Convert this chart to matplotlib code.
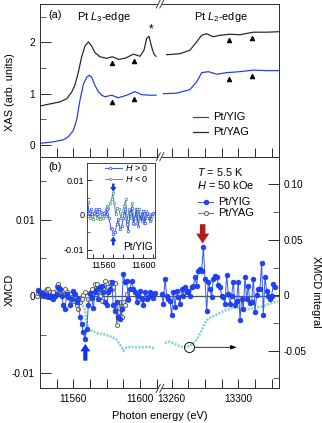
import matplotlib
matplotlib.use('Agg')
import matplotlib.pyplot as plt
from matplotlib.lines import Line2D
from matplotlib.patches import Rectangle
from matplotlib.ticker import FixedLocator, FixedFormatter, NullFormatter

plt.rcParams['font.family'] = ['Liberation Sans', 'DejaVu Sans']
plt.rcParams['mathtext.fontset'] = 'custom'
plt.rcParams['mathtext.it'] = 'Liberation Sans:italic'
plt.rcParams['mathtext.rm'] = 'Liberation Sans'

# ---------------- data ----------------
# XAS, Pt L3 edge (left) and L2 edge (right)
yag_l3_e = [11540, 11552, 11556, 11559, 11561, 11563, 11565, 11567, 11569, 11571, 11573, 11576, 11580,
            11583.4, 11587, 11591, 11596, 11600, 11602.4, 11604, 11605.4, 11607, 11608.4, 11609.6]
yag_l3_v = [0.76, 0.84, 0.90, 1.03, 1.17, 1.42, 1.72, 1.93, 2.01, 1.93, 1.80, 1.72, 1.69,
            1.72, 1.67, 1.69, 1.77, 1.73, 1.85, 2.08, 2.12, 1.91, 1.77, 1.73]
yag_l2_e = [13257, 13265, 13271, 13275, 13278, 13281, 13285, 13289, 13295, 13301, 13309, 13317, 13325]
yag_l2_v = [1.76, 1.78, 1.85, 2.01, 2.14, 2.17, 2.11, 2.14, 2.16, 2.15, 2.20, 2.20, 2.21]
yig_l3_e = [11540, 11548, 11554, 11557, 11560, 11562, 11564, 11566, 11568, 11569.6, 11571, 11573,
            11575, 11577, 11579, 11583, 11587, 11592, 11597, 11601, 11606, 11609.6]
yig_l3_v = [0.03, 0.06, 0.10, 0.16, 0.28, 0.49, 0.875, 1.18, 1.32, 1.36, 1.32, 1.16,
            1.04, 0.97, 0.94, 0.97, 0.92, 0.97, 1.04, 0.98, 0.97, 0.97]
yig_l2_e = [13255, 13263, 13271, 13275, 13278, 13282, 13287, 13293, 13301, 13309, 13317, 13325]
yig_l2_v = [1.00, 1.01, 1.08, 1.23, 1.41, 1.43, 1.38, 1.41, 1.43, 1.46, 1.45, 1.45]
tri_e_l3 = [11583.4, 11596.6]
tri_yag_l3 = [1.60, 1.63]
tri_yig_l3 = [0.84, 0.89]
tri_e_l2 = [13294.6, 13308.4]
tri_yag_l2 = [2.04, 2.08]
tri_yig_l2 = [1.29, 1.34]

# XMCD (x1e-3), 1 eV steps
yig_mcd_l3_start = 11539
yig_mcd_l3 = [0.8, 0.5, 0.2, 0.4, 0.0, 0.2, -0.1, 0.1, -0.2, -0.3, 0.0, 0.3, 1.2, 1.0, 0.1, -1.2,
              -1.7, 0.3, -0.1, -1.2, -0.3, 0.7, 0.3, -0.8, -0.3, -2.7, -3.6, -4.7, -5.6, -4.3,
              -1.2, 0.4, -0.2, -1.5, 0.6, 0.9, -0.3, 1.2, 1.4, 0.5, -0.8, -1.2, 0.5, 1.0, 1.8,
              -1.2, -1.9, -0.8, -2.7, -3.0, -1.7, 2.9, 1.8, 2.0, -0.3, 1.0, 2.0, 1.0, 0.5, -0.8,
              0.1, 0.7, -0.3, -1.2, 0.5, -0.3, -0.1, 0.5, 0.3, -0.2, 0.4]
yig_mcd_l2_start = 13254
yig_mcd_l2 = [0.3, -1.0, 2.3, 0.1, -0.3, -0.6, -2.5, 0.6, -1.4, 0.7, -0.1, -1.0, 1.0, 0.1, 1.2,
              0.5, 0.7, 0.1, 1.2, 1.3, 2.5, 1.4, 3.3, 3.6, 3.3, 6.4, 2.3, -1.9, 1.8, 1.0, -0.1,
              2.3, 2.7, 2.5, 1.5, 1.2, 0.1, -0.1, -1.0, 2.8, 0.3, -1.0, 0.1, 1.9, -1.1, -0.6,
              1.9, -3.1, -0.3, -1.6, 2.5, -0.3, 1.4, -0.9, -0.8, 2.3, -2.0, 0.2, 1.0, 1.0, 4.4,
              -2.4, 2.5, 0.7, 0.1, -0.3, 0.1, 1.6, 1.2]
yag_mcd_l3_start = 11538
yag_mcd_l3 = [0.1, 0.4, 0.6, 0.1, 0.2, 0.7, 1.0, 1.0, 0.5, 0.4, 0.6, 0.1, 1.4, 1.6, 1.0, 0.3,
              0.2, 0.9, 0.5, 0.2, 0.3, -0.1, -0.6, -0.1, -1.2, -1.7, -0.8, -0.3, 0.2, 0.5, 0.0,
              -0.4, 0.3, 1.0, 0.4, 1.6, 1.6, 0.7, 0.1, -0.6, 1.0, 2.0, 1.2, 1.2, 1.8, 1.0, 1.2,
              1.7, -3.8, -2.1, -0.8, -2.7, -0.8, -1.2, 0.3, -0.5]

# XMCD integral (right axis)
int_l3_e = [11540, 11545, 11550, 11555, 11560, 11563, 11565, 11567, 11568, 11569, 11571, 11574,
            11578, 11582, 11586, 11589, 11590, 11592, 11596, 11601, 11605, 11609]
int_l3_v = [0.0, 0.001, 0.002, 0.002, 0.0, -0.004, -0.008, -0.0129, -0.025, -0.030, -0.032, -0.034,
            -0.035, -0.037, -0.040, -0.047, -0.050, -0.047, -0.0465, -0.047, -0.0465, -0.048]
int_l2_e = [13256, 13259, 13262, 13266, 13271, 13275, 13278, 13280, 13282, 13285, 13289, 13293,
            13297, 13303, 13307, 13311, 13315, 13319, 13324]
int_l2_v = [-0.043, -0.042, -0.044, -0.0465, -0.046, -0.040, -0.032, -0.025, -0.021, -0.019, -0.016,
            -0.013, -0.011, -0.012, -0.0125, -0.011, -0.010, -0.0075, -0.0054]

# Inset: XMCD for H>0 and H<0 (x1e-3)
inset_pos_e = [11544.4, 11545.7, 11547.4, 11549.0, 11550.7, 11552.4, 11554.0, 11555.7, 11557.4, 11559.0,
               11560.7, 11562.4, 11564.0, 11565.7, 11567.4, 11569.0, 11570.0, 11571.7, 11573.4, 11575.0,
               11576.7, 11578.4, 11580.0, 11581.7, 11583.4, 11585.0, 11586.7, 11588.4, 11590.0, 11591.7,
               11593.4, 11595.0, 11596.7, 11598.4, 11600.0, 11601.7, 11603.4, 11605.0, 11606.7, 11608.4,
               11610.0]
inset_pos_v = [3.7, 0.7, 1.6, 0.2, 0.7, 1.6, 0.2, 1.6, 0.9, 0.2, 0.7, -0.3, 1.6, -0.8, -3.6, -4.1,
               -5.5, -5.0, -2.7, -1.2, -4.1, -3.1, -0.8, 1.6, -2.7, -4.6, 0.7, 2.1, -2.2, -0.8, 1.6,
               -3.1, 0.2, -1.7, 1.1, -2.2, 0.7, -0.3, -1.7, 0.2, 0.7]
inset_neg_e = [11544.4, 11546.7, 11548.4, 11550.0, 11551.7, 11553.4, 11555.0, 11556.7, 11558.4, 11560.0,
               11561.7, 11563.4, 11565.0, 11566.7, 11568.4, 11569.4, 11571.0, 11572.4, 11574.0, 11575.7,
               11577.4, 11579.0, 11580.7, 11582.4, 11584.0, 11585.7, 11587.4, 11589.0, 11590.7, 11592.4,
               11594.0, 11595.7, 11597.4, 11599.0, 11600.7, 11602.4, 11604.0, 11605.7, 11607.4, 11609.0]
inset_neg_v = [-0.3, -0.8, -0.3, -1.2, 0.7, -0.8, 0.2, -1.2, -0.3, -0.8, 0.7, 2.6, 2.1, 3.5, 4.5,
               6.4, 3.5, 0.2, 2.1, 1.6, -0.8, 0.7, 2.6, 4.5, -1.7, 1.6, -0.8, 3.5, -2.7, 1.6, -2.2,
               1.6, -1.2, 0.7, -2.2, 1.1, -0.8, 0.2, -1.2, -0.3]

# ---------------- layout ----------------
W, H = 322, 423
DPI = 72
fig = plt.figure(figsize=(W / DPI, H / DPI), dpi=DPI)

def fx(px):
    return px / W

def fy(py):
    return 1 - py / H

XL = (11540, 11612)
XR = (13253, 13324.6)
XBRK = 160
A_TOP, A_BOT, B_BOT = 4, 156.7, 388.3
LEFT, RIGHT = 40, 279.3

axaL = fig.add_axes([fx(LEFT), fy(A_BOT), fx(XBRK - LEFT), (A_BOT - A_TOP) / H])
axaR = fig.add_axes([fx(XBRK), fy(A_BOT), fx(RIGHT - XBRK), (A_BOT - A_TOP) / H])
axbL = fig.add_axes([fx(LEFT), fy(B_BOT), fx(XBRK - LEFT), (B_BOT - A_BOT) / H])
axbR = fig.add_axes([fx(XBRK), fy(B_BOT), fx(RIGHT - XBRK), (B_BOT - A_BOT) / H])
twL = axbL.twinx()
twR = axbR.twinx()
for main, tw in ((axbL, twL), (axbR, twR)):
    tw.set_zorder(main.get_zorder() - 1)
    main.patch.set_visible(False)

BLACK = '#222222'
BLUE = '#1e3ce8'
TLEN_MAJ, TLEN_MIN, TLEN_X = 11, 6, 9
TICKFS = 10
SPINE_LW = 1.0

for ax in (axaL, axaR, axbL, axbR, twL, twR):
    for s in ax.spines.values():
        s.set_linewidth(SPINE_LW)
        s.set_color('#333333')

# panel (a)
for ax, xl in ((axaL, XL), (axaR, XR)):
    ax.set_xlim(*xl)
    ax.set_ylim(-0.23, 2.75)
axaL.spines['right'].set_visible(False)
axaR.spines['left'].set_visible(False)
axaL.plot(yag_l3_e, yag_l3_v, color=BLACK, lw=1.2)
axaR.plot(yag_l2_e, yag_l2_v, color=BLACK, lw=1.2)
axaL.plot(yig_l3_e, yig_l3_v, color=BLUE, lw=1.2)
axaR.plot(yig_l2_e, yig_l2_v, color=BLUE, lw=1.2)
axaL.plot(tri_e_l3, tri_yag_l3, '^', color='black', ms=4.5)
axaL.plot(tri_e_l3, tri_yig_l3, '^', color='black', ms=4.5)
axaR.plot(tri_e_l2, tri_yag_l2, '^', color='black', ms=4.5)
axaR.plot(tri_e_l2, tri_yig_l2, '^', color='black', ms=4.5)
axaL.text(11606.6, 2.26, '*', ha='center', va='center', fontsize=12)

axaL.yaxis.set_major_locator(FixedLocator([0, 1, 2]))
axaL.yaxis.set_major_formatter(FixedFormatter(['0', '1', '2']))
axaL.yaxis.set_minor_locator(FixedLocator([0.5, 1.5, 2.5]))
axaL.tick_params(axis='y', which='both', direction='in', labelsize=TICKFS, pad=5, right=False)
axaL.tick_params(axis='y', which='major', length=TLEN_MAJ)
axaL.tick_params(axis='y', which='minor', length=TLEN_MIN)
axaR.tick_params(axis='y', which='both', left=False, right=False, labelleft=False)

xt_L = [11550, 11560, 11570, 11580, 11590, 11600, 11610]
xt_R = [13260, 13270, 13280, 13290, 13300, 13310, 13320]
lab_L = ['', '11560', '', '', '', '11600', '']
lab_R = ['13260', '', '', '', '13300', '', '']
for ax, xt in ((axaL, xt_L), (axaR, xt_R)):
    ax.xaxis.set_major_locator(FixedLocator(xt))
    ax.xaxis.set_major_formatter(NullFormatter())
    ax.tick_params(axis='x', direction='in', length=TLEN_X, top=False)

# panel (b)
for ax, xl in ((axbL, XL), (axbR, XR)):
    ax.set_xlim(*xl)
    ax.set_ylim(-0.0120, 0.0182)
for tw, xl in ((twL, XL), (twR, XR)):
    tw.set_xlim(*xl)
    tw.set_ylim(-0.0839, 0.125)
for ax in (axbL, twL):
    ax.spines['right'].set_visible(False)
for ax in (axbR, twR):
    ax.spines['left'].set_visible(False)
for ax, xt, lab in ((axbL, xt_L, lab_L), (axbR, xt_R, lab_R)):
    ax.xaxis.set_major_locator(FixedLocator(xt))
    ax.xaxis.set_major_formatter(FixedFormatter(lab))
    ax.tick_params(axis='x', direction='in', length=TLEN_X, top=False, labelsize=TICKFS, pad=6)
    ax.axhline(0, color='#555555', lw=1.3, zorder=1)
twL.tick_params(axis='both', which='both', left=False, right=False, labelleft=False, labelright=False,
                bottom=False, top=False, labelbottom=False)
twR.tick_params(axis='x', which='both', bottom=False, top=False, labelbottom=False)

axbL.yaxis.set_major_locator(FixedLocator([-0.01, 0, 0.01]))
axbL.yaxis.set_major_formatter(FixedFormatter(['-0.01', '0', '0.01']))
axbL.yaxis.set_minor_locator(FixedLocator([-0.005, 0.005, 0.015]))
axbL.tick_params(axis='y', which='both', direction='in', labelsize=TICKFS, pad=5, right=False)
axbL.tick_params(axis='y', which='major', length=TLEN_MAJ)
axbL.tick_params(axis='y', which='minor', length=TLEN_MIN)
axbR.tick_params(axis='y', which='both', left=False, right=False, labelleft=False)

twR.yaxis.set_major_locator(FixedLocator([-0.05, 0, 0.05, 0.10]))
twR.yaxis.set_major_formatter(FixedFormatter(['-0.05', '0', '0.05', '0.10']))
twR.yaxis.set_minor_locator(FixedLocator([-0.075, -0.025, 0.025, 0.075]))
twR.tick_params(axis='y', which='both', direction='in', labelsize=TICKFS, pad=4, left=False)
twR.tick_params(axis='y', which='major', length=TLEN_MAJ)
twR.tick_params(axis='y', which='minor', length=TLEN_MIN)

CYAN = '#84d4d4'
twL.plot(int_l3_e, int_l3_v, color=CYAN, lw=2.6, ls=(0, (0.8, 0.5)))
twR.plot(int_l2_e, int_l2_v, color=CYAN, lw=2.6, ls=(0, (0.8, 0.5)))

yag_e = [yag_mcd_l3_start + i for i in range(len(yag_mcd_l3))]
yigL_e = [yig_mcd_l3_start + i for i in range(len(yig_mcd_l3))]
yigR_e = [yig_mcd_l2_start + i for i in range(len(yig_mcd_l2))]
sc = 1e-3
GRAY = '#707070'
axbL.plot(yag_e, [v * sc for v in yag_mcd_l3], '-o', color=GRAY, lw=1.0, ms=4.2, mfc='#eeeeee',
          mec='#606060', mew=0.9, zorder=3, clip_on=False)
MBLUE = '#1f44ff'
for ax, e, v in ((axbL, yigL_e, yig_mcd_l3), (axbR, yigR_e, yig_mcd_l2)):
    ax.plot(e, [x * sc for x in v], '-o', color='#3a5cf5', lw=1.0, ms=4.8, mfc=MBLUE,
            mec='#1030d0', mew=0.6, zorder=4, clip_on=False)

# arrows
axbR.annotate('', xy=(13278.6, 0.0069), xytext=(13278.6, 0.0094),
              arrowprops=dict(arrowstyle='simple,head_width=1.0,head_length=0.75,tail_width=0.42',
                              color='#b01c1c', lw=0, mutation_scale=13, shrinkA=0, shrinkB=0))
axbL.annotate('', xy=(11567.2, -0.0062), xytext=(11567.2, -0.0084),
              arrowprops=dict(arrowstyle='simple,head_width=1.0,head_length=0.75,tail_width=0.42',
                              color='#1133ee', lw=0, mutation_scale=10, shrinkA=0, shrinkB=0))
circ_x, circ_y = 13270.6, -0.0469
twR.plot([circ_x], [circ_y], 'o', ms=10, mfc='none', mec='black', mew=0.9)
twR.annotate('', xy=(13299, circ_y), xytext=(13273.8, circ_y),
             arrowprops=dict(arrowstyle='-|>,head_width=0.18,head_length=0.5', color='black', lw=0.8,
                             shrinkA=0, shrinkB=0))

# break marks
for yb in (A_TOP, A_BOT, B_BOT):
    fig.add_artist(Rectangle((fx(157.8), fy(yb + 2)), fx(4.4), 4 / H, transform=fig.transFigure,
                             facecolor='white', edgecolor='none', zorder=10))
    for x0 in (156.3, 159.8):
        fig.add_artist(Line2D([fx(x0), fx(x0 + 4)], [fy(yb + 4), fy(yb - 4)], transform=fig.transFigure,
                              color='#333333', lw=0.9, zorder=11))

# texts
FS = 11
fig.text(fx(48), fy(15), '(a)', fontsize=FS, va='center', ha='left')
fig.text(fx(104), fy(17), 'Pt $L_3$-edge', fontsize=FS, va='center', ha='center')
fig.text(fx(220.5), fy(17), 'Pt $L_2$-edge', fontsize=FS, va='center', ha='center')
fig.text(fx(48), fy(167), '(b)', fontsize=FS, va='center', ha='left')
fig.text(fx(197), fy(172.3), '$T$ = 5.5 K', fontsize=FS, va='center', ha='left')
fig.text(fx(197), fy(184.7), '$H$ = 50 kOe', fontsize=FS, va='center', ha='left')
fig.text(fx(10), fy(92), 'XAS (arb. units)', fontsize=FS, va='center', ha='center', rotation=90)
fig.text(fx(10), fy(290), 'XMCD', fontsize=FS, va='center', ha='center', rotation=90)
fig.text(fx(316), fy(292), 'XMCD integral', fontsize=FS, va='center', ha='center', rotation=270)
fig.text(fx(160), fy(416), 'Photon energy (eV)', fontsize=FS, va='center', ha='center')

# legend (a)
for yy, col, lab in ((117, BLUE, 'Pt/YIG'), (132, BLACK, 'Pt/YAG')):
    fig.add_artist(Line2D([fx(193), fx(208)], [fy(yy), fy(yy)], transform=fig.transFigure, color=col, lw=1.2))
    fig.text(fx(213), fy(yy), lab, fontsize=FS, va='center', ha='left')
# legend (b)
for yy, kw, lab in ((201.7, dict(color='#3a5cf5', mfc=MBLUE, mec='#1030d0', ms=4.8, mew=0.6), 'Pt/YIG'),
                    (212.7, dict(color=GRAY, mfc='#eeeeee', mec='#606060', ms=4.2, mew=0.9), 'Pt/YAG')):
    fig.add_artist(Line2D([fx(198.3), fx(213.3)], [fy(yy), fy(yy)], transform=fig.transFigure, lw=1.0, **kw))
    fig.add_artist(Line2D([fx(205.8)], [fy(yy)], transform=fig.transFigure, marker='o', lw=0, **kw))
    fig.text(fx(218.3), fy(yy), lab, fontsize=FS, va='center', ha='left')

# inset
I_L, I_R, I_T, I_B = 87.3, 155.3, 163.3, 258.3
axi = fig.add_axes([fx(I_L), fy(I_B), fx(I_R - I_L), (I_B - I_T) / H])
axi.set_xlim(11544, 11612)
axi.set_ylim(-0.0124, 0.0148)
TEAL = '#4f8f86'
IBLUE = '#2f4cff'
axi.plot(inset_neg_e, [v * sc for v in inset_neg_v], '-o', color=TEAL, lw=0.9, ms=2.6, mfc='white',
         mec=TEAL, mew=0.7)
axi.plot(inset_pos_e, [v * sc for v in inset_pos_v], '-o', color=IBLUE, lw=0.9, ms=2.6, mfc='white',
         mec=IBLUE, mew=0.7)
axi.xaxis.set_major_locator(FixedLocator([11550, 11560, 11570, 11580, 11590, 11600, 11610]))
axi.xaxis.set_major_formatter(FixedFormatter(['', '11560', '', '', '', '11600', '']))
axi.yaxis.set_major_locator(FixedLocator([-0.01, 0, 0.01]))
axi.yaxis.set_major_formatter(FixedFormatter(['-0.01', '0', '0.01']))
axi.yaxis.set_minor_locator(FixedLocator([-0.005, 0.005]))
axi.tick_params(axis='both', which='both', direction='in', labelsize=9, top=False, right=False, pad=3)
axi.tick_params(axis='x', length=4)
axi.tick_params(axis='y', which='major', length=5)
axi.tick_params(axis='y', which='minor', length=3)
for s in axi.spines.values():
    s.set_linewidth(0.9)
    s.set_color('#333333')
axi.annotate('', xy=(11570, 0.0066), xytext=(11570, 0.0090),
             arrowprops=dict(arrowstyle='simple,head_width=0.9,head_length=0.7,tail_width=0.35',
                             color='#1133ee', lw=0, mutation_scale=7, shrinkA=0, shrinkB=0))
axi.annotate('', xy=(11570, -0.0061), xytext=(11570, -0.0087),
             arrowprops=dict(arrowstyle='simple,head_width=0.9,head_length=0.7,tail_width=0.35',
                             color='#1133ee', lw=0, mutation_scale=7, shrinkA=0, shrinkB=0))
axi.text(0.96, 0.07, 'Pt/YIG', transform=axi.transAxes, fontsize=10, ha='right', va='bottom')
for yy, col, lab in ((167.8, IBLUE, '$H$ > 0'), (178.6, TEAL, '$H$ < 0')):
    fig.add_artist(Line2D([fx(105), fx(121.7)], [fy(yy), fy(yy)], transform=fig.transFigure, color=col, lw=0.9))
    fig.add_artist(Line2D([fx(110)], [fy(yy)], transform=fig.transFigure, marker='o', ms=2.6, mfc='white',
                          mec=col, mew=0.7, lw=0))
    fig.text(fx(125), fy(yy), lab, fontsize=9, va='center', ha='left')

fig.savefig('out.png', dpi=DPI)
